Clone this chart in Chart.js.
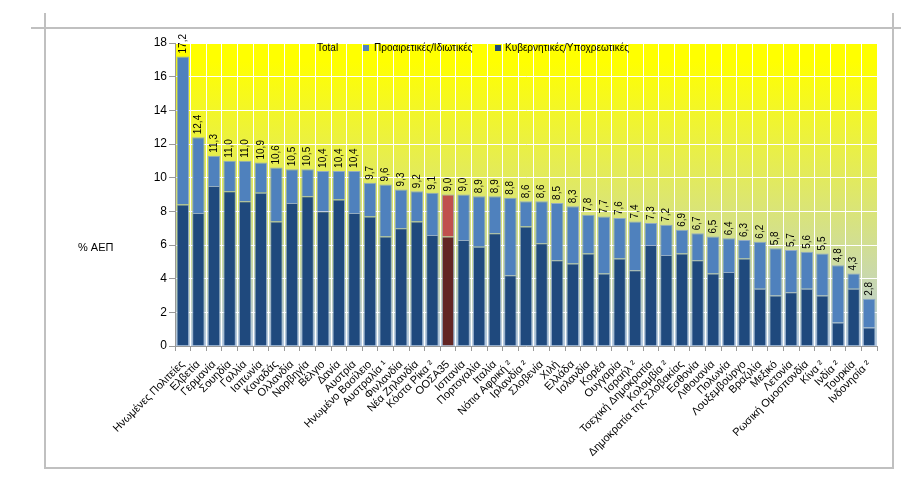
<!DOCTYPE html>
<html><head><meta charset="utf-8">
<script src="https://cdn.jsdelivr.net/npm/chart.js@4/dist/chart.umd.min.js"></script>
<style>
html,body{margin:0;padding:0;background:#fff;width:901px;height:486px;overflow:hidden;font-family:"Liberation Sans",Arial,sans-serif}
#wrap{position:absolute;left:0;top:0;width:901px;height:486px}
.ln{position:absolute;background:#c0c0c0}
</style></head><body>
<div class="ln" style="left:31px;top:27px;width:870px;height:2px"></div>
<div class="ln" style="left:44px;top:13px;width:2px;height:455px"></div>
<div class="ln" style="left:892px;top:13px;width:2px;height:456px"></div>
<div class="ln" style="left:44px;top:467px;width:850px;height:2px"></div>
<div id="wrap"><canvas id="c" width="901" height="486"></canvas></div>
<script>
const categories = ["Ηνωμένες Πολιτείες","Ελβετία","Γερμανία","Σουηδία","Γαλλία","Ιαπωνία","Καναδάς","Ολλανδία","Νορβηγία","Βέλγιο","Δανία","Αυστρία","Ηνωμένο Βασίλειο","Αυστραλία ¹","Φινλανδία","Νέα Ζηλανδία","Κόστα Ρίκα ²","ΟΟΣΑ35","Ισπανία","Πορτογαλία","Ιταλία","Νότια Αφρική ²","Ιρλανδία ²","Σλοβενία","Χιλή","Ελλάδα","Ισλανδία","Κορέα","Ουγγαρία","Ισραήλ ²","Τσεχική Δημοκρατία","Κολομβία ²","Δημοκρατία της Σλοβακίας","Εσθονία","Λιθουανία","Πολωνία","Λουξεμβούργο","Βραζιλία","Μεξικό","Λετονία","Ρωσική Ομοσπονδία","Κίνα ²","Ινδία ²","Τουρκία","Ινδονησία ²"];
const totals = [17.2,12.4,11.3,11.0,11.0,10.9,10.6,10.5,10.5,10.4,10.4,10.4,9.7,9.6,9.3,9.2,9.1,9.0,9.0,8.9,8.9,8.8,8.6,8.6,8.5,8.3,7.8,7.7,7.6,7.4,7.3,7.2,6.9,6.7,6.5,6.4,6.3,6.2,5.8,5.7,5.6,5.5,4.8,4.3,2.8];
const government = [8.4,7.9,9.5,9.2,8.6,9.1,7.4,8.5,8.9,8.0,8.7,7.9,7.7,6.5,7.0,7.4,6.6,6.5,6.3,5.9,6.7,4.2,7.1,6.1,5.1,4.9,5.5,4.3,5.2,4.5,6.0,5.4,5.5,5.1,4.3,4.4,5.2,3.4,3.0,3.2,3.4,3.0,1.4,3.4,1.1];
const voluntary = [8.8,4.5,1.8,1.8,2.4,1.8,3.2,2.0,1.6,2.4,1.7,2.5,2.0,3.1,2.3,1.8,2.5,2.5,2.7,3.0,2.2,4.6,1.5,2.5,3.4,3.4,2.3,3.4,2.4,2.9,1.3,1.8,1.4,1.6,2.2,2.0,1.1,2.8,2.8,2.5,2.2,2.5,3.4,0.9,1.7];
const yTicks = [0,2,4,6,8,10,12,14,16,18];
const seriesLabels = ["Total","Προαιρετικές/Ιδιωτικές","Κυβερνητικές/Υποχρεωτικές"];
const yTitle = "% ΑΕΠ";
const highlight = "ΟΟΣΑ35";

const FONT = '"Liberation Sans", Arial, sans-serif';
const COL_GOV = '#1F497D', COL_VOL = '#4F81BD', COL_GOV_H = '#632523', COL_VOL_H = '#C0504D';

const bgPlugin = {
  id:'bg',
  beforeDraw(chart){
    const {ctx, chartArea:a} = chart;
    const g = ctx.createLinearGradient(0,a.top,0,a.bottom);
    g.addColorStop(0,'#FFFF00');
    g.addColorStop(0.06,'#FFFF00');
    g.addColorStop(1,'#B8CCE4');
    ctx.save(); ctx.fillStyle=g; ctx.fillRect(a.left,a.top,a.right-a.left,a.bottom-a.top); ctx.restore();
  }
};
const labelPlugin = {
  id:'vals',
  afterDatasetsDraw(chart){
    const {ctx} = chart;
    const xs = chart.scales.x, ys = chart.scales.y;
    ctx.save();
    ctx.font = '10px '+FONT; ctx.fillStyle='#000'; ctx.textAlign='left'; ctx.textBaseline='middle';
    totals.forEach((v,i)=>{
      const x = xs.getPixelForValue(i), y = ys.getPixelForValue(v);
      ctx.save(); ctx.translate(x,y-3); ctx.rotate(-Math.PI/2);
      ctx.fillText(v.toFixed(1).replace('.',','),0,0); ctx.restore();
    });
    ctx.restore();
  },
  afterDraw(chart){
    const {ctx} = chart;
    ctx.save();
    ctx.font='10px '+FONT; ctx.fillStyle='#000'; ctx.textBaseline='middle'; ctx.textAlign='left';
    const yL = 48;
    ctx.fillText(seriesLabels[0],317,yL);
    ctx.fillStyle=COL_VOL; ctx.fillRect(363,yL-3,6,6);
    ctx.fillStyle='#000'; ctx.fillText(seriesLabels[1],374,yL);
    ctx.fillStyle=COL_GOV; ctx.fillRect(495,yL-3,6,6);
    ctx.fillStyle='#000'; ctx.fillText(seriesLabels[2],505,yL);
    ctx.font='11px '+FONT; ctx.fillText(yTitle,78,248);
    ctx.restore();
  }
};

const isH = c => categories[c.dataIndex]===highlight;
new Chart(document.getElementById('c'),{
  type:'bar',
  data:{labels:categories,datasets:[
    {label:seriesLabels[2],data:government,backgroundColor:c=>isH(c)?COL_GOV_H:COL_GOV,borderColor:'rgba(140,165,200,0.9)',borderWidth:1,borderSkipped:'bottom',barPercentage:0.8,categoryPercentage:1},
    {label:seriesLabels[1],data:voluntary,backgroundColor:c=>isH(c)?COL_VOL_H:COL_VOL,borderColor:'rgba(140,165,200,0.9)',borderWidth:1,borderSkipped:'bottom',barPercentage:0.8,categoryPercentage:1}
  ]},
  options:{
    responsive:false,animation:false,devicePixelRatio:1,
    layout:{padding:{left:140,right:24,top:43,bottom:4}},
    plugins:{legend:{display:false},tooltip:{enabled:false}},
    scales:{
      x:{stacked:true,
        grid:{color:'#ffffff',lineWidth:1,offset:true,tickColor:'#999',tickLength:5,drawOnChartArea:true},
        border:{color:'#999',width:1},
        ticks:{font:{family:FONT,size:11},color:'#000',maxRotation:45,minRotation:45,autoSkip:false,padding:7},
        afterFit(s){s.height=136;}
      },
      y:{stacked:true,min:0,max:18,
        afterBuildTicks(s){s.ticks=yTicks.map(v=>({value:v}));},
        grid:{color:'#ffffff',lineWidth:1,tickColor:'#999',tickLength:6},
        border:{color:'#999',width:1},
        ticks:{font:{family:FONT,size:12},color:'#000',padding:2},
        afterFit(s){s.width=35;}
      }
    }
  },
  plugins:[bgPlugin,labelPlugin]
});
</script>
</body></html>
